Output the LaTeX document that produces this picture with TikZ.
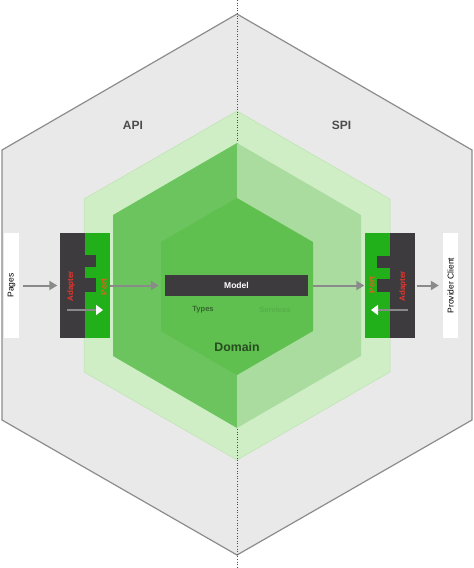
\documentclass[tikz,border=0pt]{standalone}
\usepackage{fontspec}
\setmainfont{Liberation Sans}
\usetikzlibrary{arrows.meta}
\definecolor{hexgray}{HTML}{E9E9E9}
\definecolor{hexline}{HTML}{8C8C8C}
\definecolor{paleg}{HTML}{CFEEC6}
\definecolor{palegline}{HTML}{BCE4B0}
\definecolor{leftg}{HTML}{6CC45E}
\definecolor{rightg}{HTML}{ABDC9F}
\definecolor{coreg}{HTML}{5FBF4F}
\definecolor{portg}{HTML}{22B01A}
\definecolor{darkbox}{HTML}{3D3B3E}
\definecolor{adred}{HTML}{E8352C}
\definecolor{portred}{HTML}{F05A1E}
\definecolor{flowgray}{HTML}{8A8A8A}
\tikzset{
  flow/.style={draw=flowgray,line width=2pt,-{Triangle[length=8pt,width=9pt]}},
  back/.style={draw=flowgray,line width=2.6pt,-{Triangle[color=white,length=7pt,width=10pt]}},
  endbox/.style={fill=white,minimum width=105pt,minimum height=15pt,inner sep=0pt,rotate=90,font=\fontsize{8.5}{10}\selectfont},
  portbox/.style={fill=portg,minimum width=25pt,minimum height=105pt,inner sep=0pt},
  adbox/.style={fill=darkbox,minimum width=25pt,minimum height=105pt,inner sep=0pt},
  vlabel/.style={rotate=90,font=\fontsize{8}{9}\bfseries\selectfont,inner sep=0pt},
}
\begin{document}
\begin{tikzpicture}  % ------ hexagonal architecture  --------------
      [x=1pt,y=-1pt]
    \useasboundingbox (0,0) rectangle (474,568);

    % outer hexagon
    \coordinate (O1) at (237,14);
    \coordinate (O2) at (472,150);
    \coordinate (O3) at (472,420);
    \coordinate (O4) at (237,555);
    \coordinate (O5) at (2,420);
    \coordinate (O6) at (2,150);
    \filldraw [fill=hexgray,draw=hexline,line width=1.2pt] (O1) -- (O2) -- (O3) -- (O4) -- (O5) -- (O6) -- cycle ;

    % pale hexagon
    \filldraw [fill=paleg,draw=palegline,line width=0.5pt] (237,111) -- (390,199) -- (390,372) -- (237,460) -- (84,372) -- (84,199) -- cycle ;

    \draw [dotted,draw=black!70,line width=0.6pt] (237,0) -- (237,568) ;

    % the two faces
    \fill [leftg] (237,143) -- (113,215) -- (113,356) -- (237,428) -- cycle ;
    \fill [rightg] (237,143) -- (361,215) -- (361,356) -- (237,428) -- cycle ;

    % domain core
    \fill [coreg] (237,198) -- (313,242) -- (313,331) -- (237,375) -- (161,331) -- (161,242) -- cycle ;

    % ------ left side --------------
    \node [endbox] (pages) at (11.5,285.5) {Pages};
    \node [adbox] (adL) at (72,285.5) {};
    \node [portbox] (portL) at (97.5,285.5) {};
    \fill [darkbox] (85,255) rectangle (96,267) ;
    \fill [darkbox] (85,278) rectangle (96,292) ;
    \node [vlabel,text=adred] (adLtext) at (71,286) {Adapter};
    \node [vlabel,text=portred] (portLtext) at (104,287) {Port};

    % ------ right side --------------
    \node [endbox] (client) at (450.5,285.5) {Provider Client};
    \node [portbox] (portR) at (377,285.5) {};
    \node [adbox] (adR) at (402,285.5) {};
    \fill [darkbox] (377,256) rectangle (390,268) ;
    \fill [darkbox] (377,279) rectangle (390,292) ;
    \node [vlabel,text=portred] (portRtext) at (372,285) {Port};
    \node [vlabel,text=adred] (adRtext) at (403,286) {Adapter};

    % ------ model --------------
    \node [fill=darkbox,minimum width=143pt,minimum height=21pt,inner sep=0pt,
           text=white,font=\fontsize{8.5}{10}\bfseries\selectfont] (model) at (236.5,285.5) {Model};

    \coordinate (inL) at (67,310);
    \coordinate (inLtip) at (103,310);
    \coordinate (inR) at (408,310);
    \coordinate (inRtip) at (371,310);

    \draw [flow] (pages.south) ++(4,0) -- ([xshift=-2pt]adL.west) ;
    \draw [flow] (portL.east) -- ([xshift=-6pt]model.west) ;
    \draw [flow] ([xshift=5pt]model.east) -- (portR.west) ;
    \draw [flow] ([xshift=2pt]adR.east) -- ([xshift=-4pt]client.north) ;
    \draw [back] (inL) -- (inLtip) ;
    \draw [back] (inR) -- (inRtip) ;

    \node [font=\fontsize{12}{14}\bfseries\selectfont,text=black!70] (api) at (133,125) {API};
    \node [font=\fontsize{12}{14}\bfseries\selectfont,text=black!70] (spi) at (341.5,125) {SPI};

\begin{footnotesize}
    \node [font=\fontsize{7.6}{9}\bfseries\selectfont,text=black!45!coreg] (types) at (203,310) {Types};
    \node [font=\fontsize{7.6}{9}\bfseries\selectfont,text=black!8!coreg] (services) at (275,310) {Services};
    \node [font=\fontsize{12.3}{14}\bfseries\selectfont,text=black!60!coreg] (domain) at (237,347) {Domain};
\end{footnotesize}
\end{tikzpicture}
\end{document}
